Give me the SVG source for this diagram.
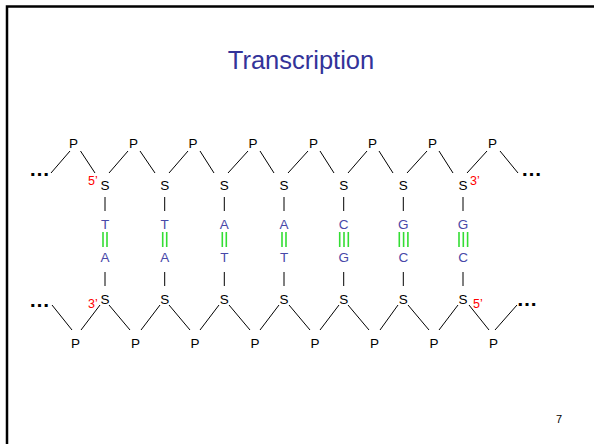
<svg xmlns="http://www.w3.org/2000/svg" width="594" height="444" viewBox="0 0 594 444">
<style>
.t{font-family:"Liberation Sans",Arial,sans-serif;text-anchor:middle}
.bb{font-size:13.5px;fill:#000}
.base{font-size:13.5px;fill:#4848a8}
.end{font-size:12.5px;fill:#ff0000;font-family:"Liberation Sans",Arial,sans-serif}
.dots{font-size:21px;font-weight:bold;fill:#000}
.ln{stroke:#000;stroke-width:1;fill:none}
.hb{stroke:#33dd33;stroke-width:1.6}
</style>
<rect x="7" y="6.5" width="620" height="460" fill="#fff" stroke="#000" stroke-width="2.5"/>
<text id="title" class="t" x="301" y="69" font-size="25.5" fill="#333399">Transcription</text>
<g id="connectors" class="ln">
<polyline points="51,173 70,151"/>
<polyline points="80.5,151 95,173"/>
<polyline points="109,173 128,151"/>
<polyline points="140,151 155,173"/>
<polyline points="169,173 188,151"/>
<polyline points="200,151 214,173"/>
<polyline points="228,173 248,151"/>
<polyline points="260,151 274,173"/>
<polyline points="288,173 308,151"/>
<polyline points="320,151 334,173"/>
<polyline points="348,173 367,151"/>
<polyline points="379,151 393,173"/>
<polyline points="407,173 427,151"/>
<polyline points="439,151 453,173"/>
<polyline points="467,173 487,151"/>
<polyline points="500,151 518,173"/>
<polyline points="52,305 72,330"/>
<polyline points="81,330 100,305"/>
<polyline points="109,305 130,330"/>
<polyline points="141,330 160,305"/>
<polyline points="169,305 190,330"/>
<polyline points="200,330 219,305"/>
<polyline points="229,305 250,330"/>
<polyline points="260,330 279,305"/>
<polyline points="289,305 310,330"/>
<polyline points="320,330 339,305"/>
<polyline points="348,305 369,330"/>
<polyline points="380,330 398,305"/>
<polyline points="408,305 429,330"/>
<polyline points="439,330 458,305"/>
<polyline points="469,305 489,330"/>
<polyline points="495,330 517,305"/>
<g>
<line x1="105" y1="197" x2="105" y2="211"/><line x1="105" y1="272" x2="105" y2="286"/>
<line x1="164.7" y1="197" x2="164.7" y2="211"/><line x1="164.7" y1="272" x2="164.7" y2="286"/>
<line x1="224.3" y1="197" x2="224.3" y2="211"/><line x1="224.3" y1="272" x2="224.3" y2="286"/>
<line x1="284" y1="197" x2="284" y2="211"/><line x1="284" y1="272" x2="284" y2="286"/>
<line x1="343.7" y1="197" x2="343.7" y2="211"/><line x1="343.7" y1="272" x2="343.7" y2="286"/>
<line x1="403.3" y1="197" x2="403.3" y2="211"/><line x1="403.3" y1="272" x2="403.3" y2="286"/>
<line x1="463" y1="197" x2="463" y2="211"/><line x1="463" y1="272" x2="463" y2="286"/>
</g>
<g class="hb">
<line x1="103" y1="232" x2="103" y2="247"/><line x1="107" y1="232" x2="107" y2="247"/>
<line x1="162.7" y1="232" x2="162.7" y2="247"/><line x1="166.7" y1="232" x2="166.7" y2="247"/>
<line x1="222.3" y1="232" x2="222.3" y2="247"/><line x1="226.3" y1="232" x2="226.3" y2="247"/>
<line x1="282" y1="232" x2="282" y2="247"/><line x1="286" y1="232" x2="286" y2="247"/>
<line x1="339.7" y1="232" x2="339.7" y2="247"/><line x1="344" y1="232" x2="344" y2="247"/><line x1="348.3" y1="232" x2="348.3" y2="247"/>
<line x1="399.3" y1="232" x2="399.3" y2="247"/><line x1="403.6" y1="232" x2="403.6" y2="247"/><line x1="407.9" y1="232" x2="407.9" y2="247"/>
<line x1="459" y1="232" x2="459" y2="247"/><line x1="463.3" y1="232" x2="463.3" y2="247"/><line x1="467.6" y1="232" x2="467.6" y2="247"/>
</g>
</g>
<g id="upper-ends" class="t dots"><text x="39.5" y="176">…</text><text x="531.5" y="176">…</text></g>
<g id="lower-ends" class="t dots"><text x="39.5" y="307">…</text><text x="527" y="306">…</text></g>
<g id="upper-P" class="t bb">
<text x="73.5" y="148">P</text><text x="133.5" y="148">P</text><text x="193" y="148">P</text><text x="253" y="148">P</text><text x="313.5" y="148">P</text><text x="372.5" y="148">P</text><text x="432.5" y="148">P</text><text x="492.5" y="148">P</text>
</g>
<g id="lower-P" class="t bb">
<text x="75.5" y="348">P</text><text x="135.5" y="348">P</text><text x="195" y="348">P</text><text x="255" y="348">P</text><text x="315" y="348">P</text><text x="374.5" y="348">P</text><text x="434" y="348">P</text><text x="493.5" y="348">P</text>
</g>
<g id="pair1"><text class="t bb" x="105" y="190">S</text><text class="t base" x="105" y="229">T</text><text class="t base" x="105" y="262">A</text><text class="t bb" x="105" y="304">S</text></g>
<g id="pair2"><text class="t bb" x="164.7" y="190">S</text><text class="t base" x="164.7" y="229">T</text><text class="t base" x="164.7" y="262">A</text><text class="t bb" x="164.7" y="304">S</text></g>
<g id="pair3"><text class="t bb" x="224.3" y="190">S</text><text class="t base" x="224.3" y="229">A</text><text class="t base" x="224.3" y="262">T</text><text class="t bb" x="224.3" y="304">S</text></g>
<g id="pair4"><text class="t bb" x="284" y="190">S</text><text class="t base" x="284" y="229">A</text><text class="t base" x="284" y="262">T</text><text class="t bb" x="284" y="304">S</text></g>
<g id="pair5"><text class="t bb" x="343.7" y="190">S</text><text class="t base" x="343.7" y="229">C</text><text class="t base" x="343.7" y="262">G</text><text class="t bb" x="343.7" y="304">S</text></g>
<g id="pair6"><text class="t bb" x="403.3" y="190">S</text><text class="t base" x="403.3" y="229">G</text><text class="t base" x="403.3" y="262">C</text><text class="t bb" x="403.3" y="304">S</text></g>
<g id="pair7"><text class="t bb" x="463" y="190">S</text><text class="t base" x="463" y="229">G</text><text class="t base" x="463" y="262">C</text><text class="t bb" x="463" y="304">S</text></g>
<g id="labels">
<text class="end" x="88" y="185">5’</text>
<text class="end" x="88" y="308">3’</text>
<text class="end" x="470" y="185">3’</text>
<text class="end" x="473" y="308">5’</text>
</g>
<text id="page" x="556" y="423" font-family="Liberation Sans,Arial,sans-serif" font-size="11" fill="#000">7</text>
</svg>
